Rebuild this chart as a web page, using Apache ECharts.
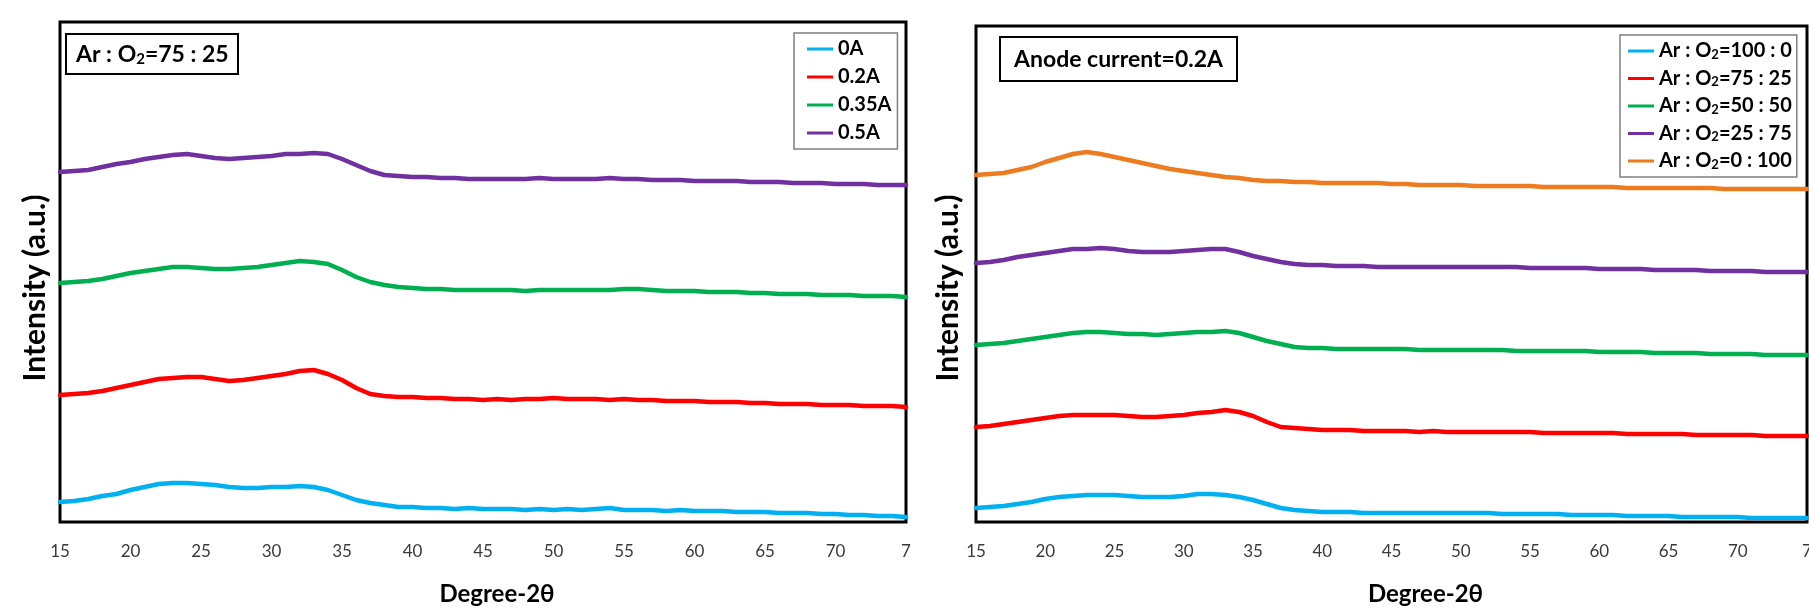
<!DOCTYPE html>
<html>
<head>
<meta charset="utf-8">
<script src="https://cdn.jsdelivr.net/npm/echarts@6/dist/echarts.min.js"></script>
<style>
  html, body { margin: 0; padding: 0; background: #ffffff; }
  #chart { width: 1809px; height: 609px; }
</style>
</head>
<body>
<div id="chart"></div>
<script>
// 2θ positions (degrees) shared by every pattern
const twoTheta = [15,16,17,18,19,20,21,22,23,24,25,26,27,28,29,30,31,32,33,34,35,36,37,38,39,40,
  41,42,43,44,45,46,47,48,49,50,51,52,53,54,55,56,57,58,59,60,61,62,63,64,65,66,67,68,69,70,
  71,72,73,74,75];

// x tick labels (the last one is cut at the frame edge)
const xTickValues = [15,20,25,30,35,40,45,50,55,60,65,70,75];
const xTickLabels = ['15','20','25','30','35','40','45','50','55','60','65','70','7'];

// ---- Left panel: Ar : O2 = 75 : 25, varying anode current (stacked, a.u.) ----
const currentNames = ['0A', '0.2A', '0.35A', '0.5A'];
const cur0A = [20,21,23,26,28,32,35,38,39,39,38,37,35,34,34,35,35,36,35,32,27,22,19,17,15,15,
  14,14,13,14,13,13,13,12,13,12,13,12,13,14,12,12,12,11,12,11,11,11,10,10,10,9,9,9,8,8,
  7,7,6,6,5];
const cur02A = [127,128,129,131,134,137,140,143,144,145,145,143,141,142,144,146,148,151,152,148,142,134,128,126,125,125,
  124,124,123,123,122,123,122,123,123,124,123,123,123,122,123,122,122,121,121,121,120,120,120,119,119,118,118,118,117,117,
  117,116,116,116,115];
const cur035A = [239,240,241,243,246,249,251,253,255,255,254,253,253,254,255,257,259,261,260,258,252,245,240,237,235,234,
  233,233,232,232,232,232,232,231,232,232,232,232,232,232,233,233,232,231,231,231,230,230,230,229,229,228,228,228,227,227,
  227,226,226,226,225];
const cur05A = [350,351,352,355,358,360,363,365,367,368,366,364,363,364,365,366,368,368,369,368,363,357,351,347,346,345,
  345,344,344,343,343,343,343,343,344,343,343,343,343,344,343,343,342,342,342,341,341,341,341,340,340,340,339,339,339,338,
  338,338,337,337,337];

// ---- Right panel: anode current 0.2 A, varying Ar : O2 ratio (stacked, a.u.) ----
const ratioNames = ['Ar : O₂=100 : 0', 'Ar : O₂=75 : 25', 'Ar : O₂=50 : 50', 'Ar : O₂=25 : 75', 'Ar : O₂=0 : 100'];
const ratio100_0 = [14,15,16,18,20,23,25,26,27,27,27,26,25,25,25,26,28,28,27,25,22,18,14,12,11,10,
  10,10,9,9,9,9,9,9,9,9,9,9,8,8,8,8,8,7,7,7,7,6,6,6,6,5,5,5,5,5,
  4,4,4,4,4];
const ratio75_25 = [95,96,98,100,102,104,106,107,107,107,107,106,105,105,106,107,109,110,112,110,106,100,95,94,93,92,
  92,92,91,91,91,91,90,91,90,90,90,90,90,90,90,89,89,89,89,89,89,88,88,88,88,88,87,87,87,87,
  87,86,86,86,86];
const ratio50_50 = [177,178,179,181,183,185,187,189,190,190,189,188,188,187,188,189,190,190,191,189,185,181,178,175,174,174,
  173,173,173,173,173,173,172,172,172,172,172,172,172,171,171,171,171,171,171,170,170,170,170,169,169,169,169,168,168,168,
  168,167,167,167,167];
const ratio25_75 = [259,260,262,265,267,269,271,273,273,274,273,271,270,270,270,271,272,273,273,270,266,263,260,258,257,257,
  256,256,256,255,255,255,255,255,255,255,255,255,255,255,254,254,254,254,254,253,253,253,253,252,252,252,252,251,251,251,
  251,250,250,250,250];
const ratio0_100 = [347,348,349,352,355,360,364,368,370,368,365,362,359,356,353,351,349,347,345,344,342,341,341,340,340,339,
  339,339,339,339,338,338,337,337,337,337,336,336,336,336,336,335,335,335,335,335,335,334,334,334,334,334,334,334,333,333,
  333,333,333,333,333];

const lineColors = ['#00b0f0', '#ff0000', '#00b050', '#7030a0', '#ec7c1f'];
const FONT = 'Lato, "Open Sans", "DejaVu Sans", sans-serif';

function pairs(ys) { return twoTheta.map((x, i) => [x, ys[i]]); }
function subscript(name) { return name.replace('O₂', 'O{s|2}'); }

function richSub(size) {
  return { s: { fontSize: size, fontWeight: 'bold', fontFamily: FONT, color: '#000', verticalAlign: 'bottom', lineHeight: size + 1 } };
}

function xAxisFor(gridIndex, nameShift) {
  return {
    type: 'value', gridIndex, min: 15, max: 75, interval: 5,
    name: 'Degree-2θ', nameLocation: 'middle', nameGap: 60,
    nameTextStyle: { fontFamily: FONT, fontSize: 24, fontWeight: 'bold', color: '#000',
      padding: [0, 0, 0, nameShift * 2] },
    axisLine: { show: false }, axisTick: { show: false }, splitLine: { show: false },
    axisLabel: {
      margin: 21, fontFamily: FONT, fontSize: 17, color: '#3a3a3a',
      formatter: v => { const k = xTickValues.indexOf(v); return k >= 0 ? xTickLabels[k] : ''; }
    }
  };
}

function yAxisFor(gridIndex, max, gap, shiftDown) {
  return {
    type: 'value', gridIndex, min: 0, max,
    name: 'Intensity (a.u.)', nameLocation: 'middle', nameGap: gap,
    nameTextStyle: { fontFamily: FONT, fontSize: 30, fontWeight: 'bold', color: '#000',
      padding: [0, shiftDown * 2, 0, 0] },
    axisLine: { show: false }, axisTick: { show: false }, splitLine: { show: false },
    axisLabel: { show: false }
  };
}

function lineSeries(name, ys, color, idx) {
  return {
    type: 'line', name, data: pairs(ys), xAxisIndex: idx, yAxisIndex: idx,
    showSymbol: false, symbol: 'none', smooth: false, animation: false,
    lineStyle: { color, width: 4.5, join: 'round', cap: 'round' }, itemStyle: { color }
  };
}

const leftSeries = [cur0A, cur02A, cur035A, cur05A];
const rightSeries = [ratio100_0, ratio75_25, ratio50_50, ratio25_75, ratio0_100];

const series = [];
leftSeries.forEach((ys, i) => series.push(lineSeries(currentNames[i], ys, lineColors[i], 0)));
rightSeries.forEach((ys, i) => series.push(lineSeries(ratioNames[i], ys, lineColors[i], 1)));

const legendBase = {
  orient: 'vertical', icon: 'rect', itemWidth: 26, itemHeight: 3,
  backgroundColor: '#ffffff', borderColor: '#7f7f7f', borderWidth: 1.5,
  textStyle: { fontFamily: FONT, fontSize: 20, fontWeight: 'bold', color: '#000', lineHeight: 20, rich: richSub(13) },
  formatter: subscript
};

const gridBase = { show: true, borderColor: '#000', borderWidth: 3, backgroundColor: 'transparent', outerBoundsMode: 'none', containLabel: false };

const option = {
  backgroundColor: '#ffffff',
  animation: false,
  grid: [
    Object.assign({}, gridBase, { left: 60, top: 22, width: 846, height: 500 }),
    Object.assign({}, gridBase, { left: 976, top: 26, width: 831, height: 496 })
  ],
  xAxis: [xAxisFor(0, 14), xAxisFor(1, 34)],
  yAxis: [yAxisFor(0, 500, 10, 16), yAxisFor(1, 496, 13, 14)],
  title: [
    {
      text: 'Ar : O{s|2}=75 : 25', left: 66, top: 34,
      borderColor: '#000', borderWidth: 2, padding: [8, 10, 7, 10],
      textStyle: { fontFamily: FONT, fontSize: 23, fontWeight: 'bold', color: '#000', lineHeight: 25, rich: richSub(15) }
    },
    {
      text: 'Anode current=0.2A', left: 1000, top: 37,
      borderColor: '#000', borderWidth: 2, padding: [10, 14, 9, 14],
      textStyle: { fontFamily: FONT, fontSize: 23, fontWeight: 'bold', color: '#000', lineHeight: 25 }
    }
  ],
  legend: [
    Object.assign({}, legendBase, { data: currentNames, left: 794, top: 33, itemGap: 8, padding: [6, 6, 6, 13] }),
    Object.assign({}, legendBase, { data: ratioNames, left: 1620, top: 35, itemGap: 7.5, padding: [6, 5, 6, 8] })
  ],
  series
};

const chart = echarts.init(document.getElementById('chart'), null, { renderer: 'canvas' });
chart.setOption(option);
</script>
</body>
</html>
